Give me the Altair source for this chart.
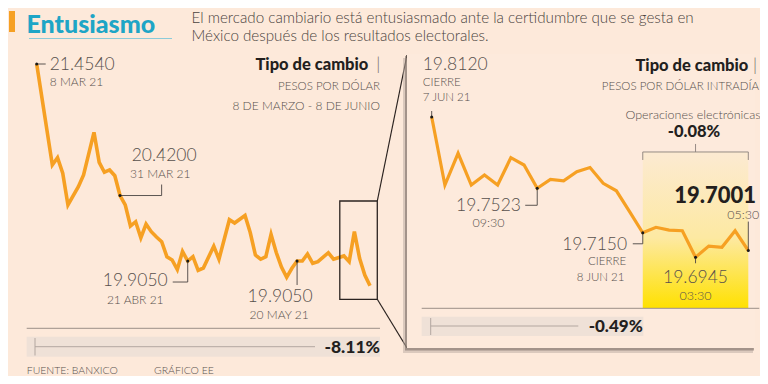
import altair as alt
import pandas as pd

# ---------------- datos ----------------
# Panel izquierdo: tipo de cambio diario (índice de día hábil desde el 8 de marzo)
dias_izq = [0, 3, 4, 5, 6, 8, 9, 11, 12, 13, 14, 15, 16, 17, 18, 19, 20, 21, 22, 23,
            24, 25, 26, 27, 28, 29, 30, 31, 32, 34, 35, 37, 38, 40, 41, 42, 43, 44, 45, 46,
            47, 48, 49, 50, 51, 52, 53, 54, 56, 57, 59, 60, 61, 62, 63, 64]
tc_izq = [21.454, 20.660, 20.717, 20.595, 20.346, 20.489, 20.581, 20.917, 20.681, 20.603,
          20.621, 20.576, 20.420, 20.346, 20.180, 20.214, 20.088, 20.196, 20.136, 20.094,
          20.057, 19.939, 19.913, 19.838, 19.980, 19.905, 19.939, 19.832, 19.850, 20.022,
          19.919, 20.230, 20.204, 20.263, 20.129, 19.952, 19.919, 19.939, 20.114, 19.972,
          19.858, 19.777, 19.848, 19.905, 19.905, 19.960, 19.887, 19.900, 19.970, 19.919,
          19.945, 19.900, 20.136, 19.927, 19.795, 19.710]
anot_izq_dias = [0, 16, 29, 50]
anot_izq_fechas = ["8 MAR 21", "31 MAR 21", "21 ABR 21", "20 MAY 21"]
zoom_dias = [58.2, 65.4]
zoom_valores = [20.377, 19.604]

# Panel derecho: intradía
pasos_der = list(range(25))
tc_der = [19.8120, 19.7550, 19.7816, 19.7550, 19.7634, 19.7550, 19.7779, 19.7718, 19.7523,
          19.7598, 19.7586, 19.7662, 19.7697, 19.7564, 19.7502, 19.7327, 19.7150, 19.7196,
          19.7173, 19.7167, 19.6945, 19.7039, 19.7028, 19.7167, 19.7001]
anot_der_pasos = [0, 8, 16, 20, 24]
anot_der_textos = [["CIERRE", "7 JUN 21"], ["09:30"], ["CIERRE", "8 JUN 21"], ["03:30"], ["05:30"]]
electronicas_pasos = [16, 24]
electronicas_techo = 19.7827

variaciones = ["-8.11%", "-0.49%", "-0.08%"]
titulo = "Entusiasmo"
subtitulo = ["El mercado cambiario está entusiasmado ante la certidumbre que se gesta en",
             "México después de los resultados electorales."]
fuente = ["FUENTE: BANXICO", "GRÁFICO EE"]

# ---------------- estilo ----------------
BG = "#fde9da"
ORANGE = "#f6a023"
TEAL = "#1ea5c6"
C_NUM = "#57504c"
C_DARK = "#231f1e"
C_LEAD = "#4a4442"
FONT = "Lato"

xL = alt.Scale(domain=[0, 64], range=[28.7, 362.0])
yL = alt.Scale(domain=[19.38, 21.454], range=[319.8, 56])
xR = alt.Scale(domain=[0, 24], range=[423.7, 740.3])
yR = alt.Scale(domain=[19.652, 19.812], range=[300, 109])


def one():
    return pd.DataFrame({"k": [0]})


def ftext(text, x, y, size, weight="normal", align="left", color=C_NUM, baseline="middle"):
    return alt.Chart(one()).mark_text(
        text=text, fontSize=size, fontWeight=weight, align=align, baseline=baseline,
        color=color, font=FONT).encode(x=alt.value(x), y=alt.value(y))


def frule(x, y, x2=None, y2=None, color="#9c8f88", width=1.0):
    enc = dict(x=alt.value(x), y=alt.value(y))
    if x2 is not None:
        enc["x2"] = alt.value(x2)
    if y2 is not None:
        enc["y2"] = alt.value(y2)
    return alt.Chart(one()).mark_rule(color=color, strokeWidth=width).encode(**enc)


def frect(x, x2, y, y2, color, opacity=1.0):
    return alt.Chart(one()).mark_rect(color=color, opacity=opacity).encode(
        x=alt.value(x), x2=alt.value(x2), y=alt.value(y), y2=alt.value(y2))


def pt(d, v):
    return pd.DataFrame({"d": [d], "v": [v]})


def XY(sx, sy):
    return dict(x=alt.X("d:Q", scale=sx, axis=None), y=alt.Y("v:Q", scale=sy, axis=None))


def num(df, sx, sy, dx, dy, size=17.5, align="left", weight=300, color=C_NUM):
    return alt.Chart(df).mark_text(dx=dx, dy=dy, fontSize=size, align=align, fontWeight=weight,
                                   color=color, font=FONT).encode(
        text=alt.Text("v:Q", format=".4f"), **XY(sx, sy))


def atext(df, sx, sy, text, dx, dy, size=12, align="left", weight=300, color=C_NUM):
    return alt.Chart(df).mark_text(text=text, dx=dx, dy=dy, fontSize=size, align=align,
                                   fontWeight=weight, color=color, font=FONT).encode(**XY(sx, sy))


def vlead(df, sx, sy, off, xoff=0, color=C_LEAD):
    return alt.Chart(df).mark_rule(color=color, strokeWidth=0.9, y2Offset=off, xOffset=xoff).encode(
        y2=alt.Y2("v"), **XY(sx, sy))


def hlead(df, sx, sy, off, yoff=0):
    return alt.Chart(df).mark_rule(color=C_LEAD, strokeWidth=0.9, x2Offset=off, yOffset=yoff).encode(
        x2=alt.X2("d"), **XY(sx, sy))


def dot(df, sx, sy):
    return alt.Chart(df).mark_circle(size=9, color="#1a1a1a", opacity=1).encode(**XY(sx, sy))


layers = []

# ---- título ----
layers += [
    frect(1, 7, 3, 24, ORANGE),
    ftext(titulo, 18.5, 25, 25, weight=900, color=TEAL, baseline="alphabetic"),
    frule(21, 30.5, x2=164, color="#8ccbd9", width=1),
    ftext(subtitulo[0], 183.5, 15.3, 15.2, weight=300, color="#4a4340", baseline="alphabetic"),
    ftext(subtitulo[1], 183.5, 32.5, 15.2, weight=300, color="#4a4340", baseline="alphabetic"),
]

# ---- conectores y panel derecho ----
layers += [
    frule(369.3, 193, x2=399, y2=47, color="#2b2320", width=1.2),
    frule(369.3, 291.3, x2=399, y2=340, color="#2b2320", width=1.2),
    frect(395, 745, 50, 345, "#b9aaa0", 0.5),
    frect(397, 746, 48, 342.5, "#7d6f68", 0.6),
    frect(399, 747, 46, 340, "#fdeadc"),
]

# ---- zona de operaciones electrónicas (degradado) ----
elec = pd.DataFrame({"d0": [electronicas_pasos[0]], "d1": [electronicas_pasos[1]],
                     "v0": [electronicas_techo], "v1": [yR.domain[0]]})
grad = alt.Gradient(gradient="linear",
                    stops=[alt.GradientStop(color="#fcead2", offset=0),
                           alt.GradientStop(color="#fde9a2", offset=0.55),
                           alt.GradientStop(color="#ffe100", offset=1)],
                    x1=0, x2=0, y1=0, y2=1)
layers.append(alt.Chart(elec).mark_rect(fill=grad).encode(
    x=alt.X("d0:Q", scale=xR, axis=None), x2=alt.X2("d1"),
    y=alt.Y("v0:Q", scale=yR, axis=None), y2=alt.Y2("v1")))

# ---- líneas base y barras de variación ----
layers += [
    frule(18.7, 320.3, x2=372, color="#9c8f88", width=1),
    frect(18.7, 372, 328.7, 348.7, "#efe1d7"),
    frule(27, 330, y2=347.5, color="#b3a7a0", width=1),
    frule(27, 338.7, x2=307, color="#b3a7a0", width=1),
    ftext(variaciones[0], 372, 339.5, 17.5, weight=900, align="right", color=C_DARK),
    frule(413.7, 300.3, x2=751.3, color="#9c8f88", width=1),
    frect(413.7, 635.3, 308.7, 328, "#efe1d7"),
    frule(422.7, 310, y2=327, color="#b3a7a0", width=1),
    frule(422.7, 318, x2=570.3, color="#b3a7a0", width=1),
    ftext(variaciones[1], 634.7, 318.7, 17, weight=900, align="right", color=C_DARK),
    ftext(fuente[0], 18.7, 362.5, 10.5, weight=300, color="#5a524e"),
    ftext(fuente[1], 146, 362.5, 10.5, weight=300, color="#5a524e"),
]

# ---- encabezados ----
layers += [
    ftext("Tipo de cambio", 360.3, 57, 16.5, weight=900, align="right", color=C_DARK),
    ftext("|", 370.3, 57, 17, weight=300, align="center", color="#6d6460"),
    ftext("PESOS POR DÓLAR", 372, 78.7, 11.5, weight=300, align="right"),
    ftext("8 DE MARZO - 8 DE JUNIO", 372, 97.8, 12, weight=300, align="right"),
    ftext("Tipo de cambio", 740.3, 57.8, 16.5, weight=900, align="right", color=C_DARK),
    ftext("|", 747, 57.8, 17, weight=300, align="center", color="#6d6460"),
    ftext("PESOS POR DÓLAR INTRADÍA", 751, 78.7, 11.5, weight=300, align="right"),
]

# ---- líneas ----
izq = pd.DataFrame({"d": dias_izq, "v": tc_izq})
der = pd.DataFrame({"d": pasos_der, "v": tc_der})
layers.append(alt.Chart(izq).mark_line(color=ORANGE, strokeWidth=3.6).encode(**XY(xL, yL)))
layers.append(alt.Chart(der).mark_line(color=ORANGE, strokeWidth=3.2).encode(**XY(xR, yR)))

# ---- recuadro de acercamiento ----
zoom = pd.DataFrame({"d0": [zoom_dias[0]], "d1": [zoom_dias[1]],
                     "v0": [zoom_valores[0]], "v1": [zoom_valores[1]]})
layers.append(alt.Chart(zoom).mark_rect(fillOpacity=0, stroke="#2b2320", strokeWidth=1.3).encode(
    x=alt.X("d0:Q", scale=xL, axis=None), x2=alt.X2("d1"),
    y=alt.Y("v0:Q", scale=yL, axis=None), y2=alt.Y2("v1")))

# ---- anotaciones panel izquierdo ----
val_izq = dict(zip(dias_izq, tc_izq))
a = [pt(d, val_izq[d]) for d in anot_izq_dias]
layers += [
    hlead(a[0], xL, yL, 9),
    num(a[0], xL, yL, 13, 1),
    atext(a[0], xL, yL, anot_izq_fechas[0], 13, 18),
    hlead(a[1], xL, yL, 41.6),
    vlead(a[1], xL, yL, -11, xoff=41.6),
    num(a[1], xL, yL, 11.6, -39.7),
    atext(a[1], xL, yL, anot_izq_fechas[1], 10, -21.3),
    vlead(a[2], xL, yL, 21),
    hlead(a[2], xL, yL, -15, yoff=21),
    num(a[2], xL, yL, -52.5, 20.2, align="center"),
    atext(a[2], xL, yL, anot_izq_fechas[2], -52.5, 39, align="center"),
    vlead(a[3], xL, yL, 24),
    num(a[3], xL, yL, -17, 36, align="center"),
    atext(a[3], xL, yL, anot_izq_fechas[3], -18, 54, align="center"),
] + [dot(p, xL, yL) for p in a]

# ---- anotaciones panel derecho ----
r = [pt(p, tc_der[p]) for p in anot_der_pasos]
layers += [
    vlead(r[0], xR, yR, -6),
    num(r[0], xR, yR, -9, -52),
    atext(r[0], xR, yR, anot_der_textos[0][0], -9, -34, size=11.5),
    atext(r[0], xR, yR, anot_der_textos[0][1], -9, -19.5, size=11.5),
    vlead(r[1], xR, yR, 17),
    hlead(r[1], xR, yR, -12, yoff=17),
    num(r[1], xR, yR, -48.7, 18, align="center"),
    atext(r[1], xR, yR, anot_der_textos[1][0], -48.7, 35, size=12.5, align="center"),
    vlead(r[2], xR, yR, 11),
    hlead(r[2], xR, yR, -10, yoff=11),
    num(r[2], xR, yR, -15.6, 11.8, align="right"),
    atext(r[2], xR, yR, anot_der_textos[2][0], -16.6, 29.6, size=11.5, align="right"),
    atext(r[2], xR, yR, anot_der_textos[2][1], -18.3, 45.6, size=11.5, align="right"),
    vlead(r[3], xR, yR, 6),
    num(r[3], xR, yR, 0, 21, align="center"),
    atext(r[3], xR, yR, anot_der_textos[3][0], 0, 38.5, size=12.5, align="center"),
    vlead(r[4], xR, yR, -29),
    num(r[4], xR, yR, 7.7, -55, size=22, align="right", weight=900, color=C_DARK),
    atext(r[4], xR, yR, anot_der_textos[4][0], 11, -36, size=12.5, align="right"),
] + [dot(p, xR, yR) for p in r]

# ---- corchete de operaciones electrónicas ----
BR = "#8a807b"
br = pd.DataFrame({"d": [electronicas_pasos[0]], "d1": [electronicas_pasos[1]], "v": [electronicas_techo]})
brm = pt((electronicas_pasos[0] + electronicas_pasos[1]) / 2, electronicas_techo)
layers += [
    alt.Chart(br).mark_rule(color=BR, strokeWidth=0.9).encode(x2=alt.X2("d1"), **XY(xR, yR)),
    vlead(pt(electronicas_pasos[0], electronicas_techo), xR, yR, 8, color=BR),
    vlead(pt(electronicas_pasos[1], electronicas_techo), xR, yR, 8, color=BR),
    vlead(brm, xR, yR, -8, color=BR),
    atext(brm, xR, yR, variaciones[2], -1.5, -20, size=16.5, align="center", weight=900, color=C_DARK),
    atext(brm, xR, yR, "Operaciones electrónicas", -2.5, -37, size=12.5, align="center"),
]

chart = alt.layer(*layers).resolve_scale(x="independent", y="independent").properties(
    width=752, height=368, background=BG, padding=0,
    autosize=alt.AutoSizeParams(type="none"),
).configure_view(stroke=None)

chart.save("out.html", embed_options={"renderer": "svg", "actions": False})
